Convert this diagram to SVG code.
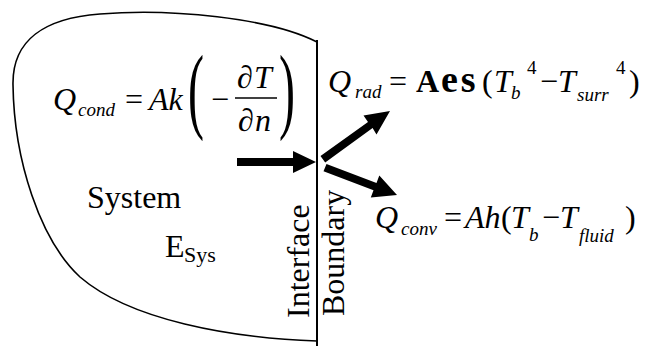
<svg xmlns="http://www.w3.org/2000/svg" width="645" height="346" viewBox="0 0 645 346">
<style>
text{font-family:"Liberation Serif","Times New Roman",serif;fill:#000}
.m{font-size:32px}
.s{font-size:19px}
.i{font-style:italic}
.b{font-weight:bold}
.ln{fill:none;stroke:#000}
</style>
<rect width="645" height="346" fill="#fff"/>
<g id="system">
<path class="ln" stroke-width="1.6" d="M317,42 C270,18 170,8 100,14 C45,18 12,40 13,85 C14,160 40,240 80,277 C130,320 230,338 317,341"/>
<text class="m" x="87" y="208">System</text>
<text class="m" x="165" y="257">E</text>
<text class="m" style="font-size:22px" x="184" y="262">Sys</text>
</g>
<g id="boundary">
<line class="ln" stroke-width="2" x1="317" y1="40" x2="317" y2="346"/>
<text class="m" transform="translate(309,318) rotate(-90)">Interface</text>
<text class="m" transform="translate(344,316) rotate(-90)">Boundary</text>
</g>
<g id="eq-cond">
<text class="m i" x="53" y="110">Q</text>
<text class="s i" x="78" y="116">cond</text>
<text class="m" x="125" y="110">=</text>
<text class="m i" x="149" y="110">Ak</text>
<text class="m" transform="translate(188,121) scale(1.5,3)">(</text>
<text class="m" x="211" y="110">−</text>
<text class="m" x="237" y="88">∂</text>
<text class="m i" x="254" y="88">T</text>
<line class="ln" stroke-width="1.5" x1="235" y1="98" x2="277" y2="98"/>
<text class="m" x="238" y="131">∂</text>
<text class="m i" x="255" y="131">n</text>
<text class="m" transform="translate(279,121) scale(1.5,3)">)</text>
</g>
<g id="eq-rad">
<text class="m i" x="328" y="92">Q</text>
<text class="s i" x="355" y="98">rad</text>
<text class="m" x="389" y="92">=</text>
<text class="m b" x="416" y="92">A</text>
<text class="b" style="font-size:38px;letter-spacing:3px" x="441" y="92">es</text>
<text class="m" x="482" y="92">(</text>
<text class="m i" x="494" y="92">T</text>
<text class="s i" x="511" y="99">b</text>
<text class="s" x="527" y="74">4</text>
<text class="m" x="540" y="92">−</text>
<text class="m i" x="558" y="92">T</text>
<text class="s i" x="577" y="101">surr</text>
<text class="s" x="616" y="74">4</text>
<text class="m" x="629" y="92">)</text>
</g>
<g id="eq-conv">
<text class="m i" x="375" y="228">Q</text>
<text class="s i" x="401" y="235">conv</text>
<text class="m" x="444" y="228">=</text>
<text class="m i" x="465" y="228">Ah</text>
<text class="m" x="501" y="228">(</text>
<text class="m i" x="511" y="228">T</text>
<text class="s i" x="529" y="241">b</text>
<text class="m" x="542" y="228">−</text>
<text class="m i" x="560" y="228">T</text>
<text class="s i" x="579" y="242">fluid</text>
<text class="m" x="625" y="228">)</text>
</g>
<g id="connectors">
<polygon points="237,158 293,158 293,151 316,162 293,173 293,166 237,166"/>
<polygon points="320.5,156 368,122 363.5,115.5 390,111 376.5,134.5 372.6,128 325.2,162.5"/>
<polygon points="323.5,171.3 373.5,190.2 370.8,197.4 397,195 379.3,175.6 376.5,182.9 326.5,164"/>
</g>
</svg>
